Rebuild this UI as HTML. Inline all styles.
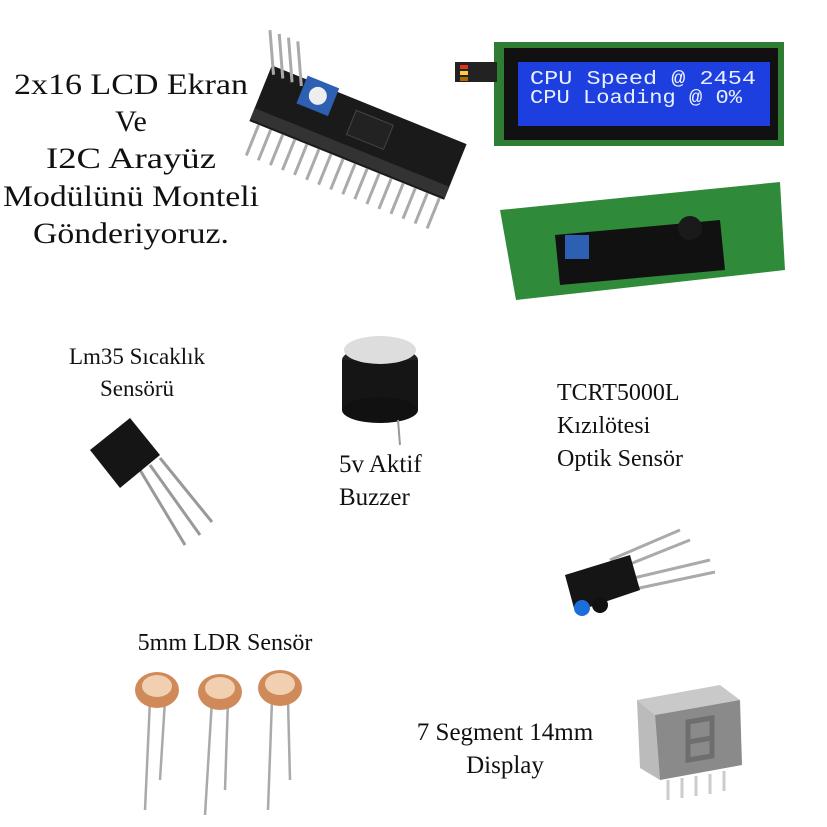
<!DOCTYPE html>
<html><head><meta charset="utf-8"><style>
html,body{margin:0;padding:0;background:#fff;width:827px;height:827px;overflow:hidden}
text{font-family:"Liberation Serif",serif;fill:#111}
</style></head><body>
<svg width="827" height="827" viewBox="0 0 827 827" xmlns="http://www.w3.org/2000/svg">
<rect width="827" height="827" fill="#fff"/>
<!-- Title text -->
<g font-size="30" text-anchor="middle">
<text x="131" y="94" textLength="234" lengthAdjust="spacingAndGlyphs">2x16 LCD Ekran</text>
<text x="131" y="131">Ve</text>
<text x="131" y="168" textLength="170" lengthAdjust="spacingAndGlyphs">I2C Arayüz</text>
<text x="131" y="206" textLength="256" lengthAdjust="spacingAndGlyphs">Modülünü Monteli</text>
<text x="131" y="243" textLength="196" lengthAdjust="spacingAndGlyphs">Gönderiyoruz.</text>
</g>
<!-- I2C module -->
<g transform="translate(355,140) rotate(22)">
<rect x="-105" y="-38" width="210" height="60" fill="#1a1a1a"/>
<g stroke="#aaa" stroke-width="3">
<line x1="-95" y1="22" x2="-95" y2="55"/><line x1="-82" y1="22" x2="-82" y2="55"/><line x1="-69" y1="22" x2="-69" y2="55"/><line x1="-56" y1="22" x2="-56" y2="55"/><line x1="-43" y1="22" x2="-43" y2="55"/><line x1="-30" y1="22" x2="-30" y2="55"/><line x1="-17" y1="22" x2="-17" y2="55"/><line x1="-4" y1="22" x2="-4" y2="55"/><line x1="9" y1="22" x2="9" y2="55"/><line x1="22" y1="22" x2="22" y2="55"/><line x1="35" y1="22" x2="35" y2="55"/><line x1="48" y1="22" x2="48" y2="55"/><line x1="61" y1="22" x2="61" y2="55"/><line x1="74" y1="22" x2="74" y2="55"/><line x1="87" y1="22" x2="87" y2="55"/><line x1="100" y1="22" x2="100" y2="55"/>
<line x1="-100" y1="-30" x2="-120" y2="-70"/><line x1="-90" y1="-30" x2="-110" y2="-70"/><line x1="-80" y1="-30" x2="-100" y2="-70"/><line x1="-70" y1="-30" x2="-90" y2="-70"/>
</g>
<rect x="-105" y="8" width="210" height="12" fill="#333"/>
<rect x="-68" y="-42" width="34" height="30" fill="#2d5fb3"/>
<circle cx="-51" cy="-27" r="9" fill="#eee"/>
<rect x="-10" y="-28" width="40" height="26" fill="#222" stroke="#444"/>
</g>
<!-- LCD front -->
<rect x="494" y="42" width="290" height="104" fill="#2e7d32"/>
<rect x="504" y="48" width="274" height="92" fill="#111"/>
<rect x="518" y="62" width="252" height="64" fill="#1e3fe0"/>
<text x="530" y="84" style="font-family:'Liberation Mono',monospace;fill:#e8f0ff" font-size="19" textLength="226" lengthAdjust="spacingAndGlyphs">CPU Speed @ 2454</text>
<text x="530" y="103" style="font-family:'Liberation Mono',monospace;fill:#e8f0ff" font-size="19" textLength="212" lengthAdjust="spacingAndGlyphs">CPU Loading @ 0%</text>
<rect x="455" y="62" width="42" height="20" fill="#222"/>
<rect x="460" y="65" width="8" height="4" fill="#d32"/><rect x="460" y="71" width="8" height="4" fill="#fc3"/><rect x="460" y="77" width="8" height="4" fill="#a60"/>
<!-- LCD back -->
<polygon points="500,210 780,182 785,270 516,300" fill="#2f8a3a"/>
<polygon points="555,235 720,220 725,270 560,285" fill="#111"/>
<rect x="565" y="235" width="24" height="24" fill="#2d5fb3"/>
<circle cx="690" cy="228" r="12" fill="#1a1a1a"/>
<!-- LM35 -->
<text x="137" y="364" font-size="23" text-anchor="middle">Lm35 Sıcaklık</text>
<text x="137" y="396" font-size="23" text-anchor="middle">Sensörü</text>
<g stroke="#999" stroke-width="3"><line x1="140" y1="470" x2="185" y2="545"/><line x1="150" y1="465" x2="200" y2="535"/><line x1="160" y1="458" x2="212" y2="522"/></g>
<polygon points="90,450 130,418 160,455 120,488" fill="#151515"/>
<!-- Buzzer -->
<ellipse cx="380" cy="360" rx="38" ry="13" fill="#222"/>
<rect x="342" y="360" width="76" height="50" fill="#151515"/>
<ellipse cx="380" cy="410" rx="38" ry="13" fill="#111"/>
<ellipse cx="380" cy="350" rx="36" ry="14" fill="#ddd"/>
<line x1="398" y1="420" x2="400" y2="445" stroke="#999" stroke-width="2"/>
<text x="339" y="472" font-size="25">5v Aktif</text>
<text x="339" y="505" font-size="25">Buzzer</text>
<!-- TCRT -->
<text x="557" y="400" font-size="24">TCRT5000L</text>
<text x="557" y="433" font-size="24">Kızılötesi</text>
<text x="557" y="466" font-size="24">Optik Sensör</text>
<g stroke="#aaa" stroke-width="3"><line x1="610" y1="560" x2="680" y2="530"/><line x1="615" y1="570" x2="690" y2="540"/><line x1="625" y1="580" x2="710" y2="560"/><line x1="630" y1="590" x2="715" y2="572"/></g>
<polygon points="565,575 630,555 640,590 575,612" fill="#151515"/>
<circle cx="582" cy="608" r="8" fill="#1c6fd8"/><circle cx="600" cy="605" r="8" fill="#111"/>
<!-- LDR -->
<text x="225" y="650" font-size="24" text-anchor="middle">5mm LDR Sensör</text>
<g stroke="#aaa" stroke-width="2.5" fill="none">
<path d="M150,700 L145,810"/><path d="M165,700 L160,780"/>
<path d="M212,700 L205,815"/><path d="M228,700 L225,790"/>
<path d="M272,700 L268,810"/><path d="M288,700 L290,780"/>
</g>
<g fill="#d08a5a"><ellipse cx="157" cy="690" rx="22" ry="18"/><ellipse cx="220" cy="692" rx="22" ry="18"/><ellipse cx="280" cy="688" rx="22" ry="18"/></g>
<g fill="#f0d0b0"><ellipse cx="157" cy="686" rx="15" ry="11"/><ellipse cx="220" cy="688" rx="15" ry="11"/><ellipse cx="280" cy="684" rx="15" ry="11"/></g>
<!-- 7 segment -->
<text x="505" y="740" font-size="25" text-anchor="middle">7 Segment 14mm</text>
<text x="505" y="773" font-size="25" text-anchor="middle">Display</text>
<polygon points="637,700 720,685 740,700 655,715" fill="#c9c9c9"/>
<polygon points="637,700 655,715 660,780 640,768" fill="#bbb"/>
<polygon points="655,715 740,700 742,765 660,780" fill="#8a8a8a"/>
<g stroke="#ccc" stroke-width="3"><line x1="668" y1="780" x2="668" y2="800"/><line x1="682" y1="778" x2="682" y2="798"/><line x1="696" y1="776" x2="696" y2="796"/><line x1="710" y1="774" x2="710" y2="794"/><line x1="724" y1="771" x2="724" y2="791"/></g>
<g stroke="#6e6e6e" stroke-width="5" fill="none"><path d="M688,722 L712,718 L712,738 L688,742 Z M688,742 L688,760 L712,756 L712,738"/></g>
</svg>
</body></html>
